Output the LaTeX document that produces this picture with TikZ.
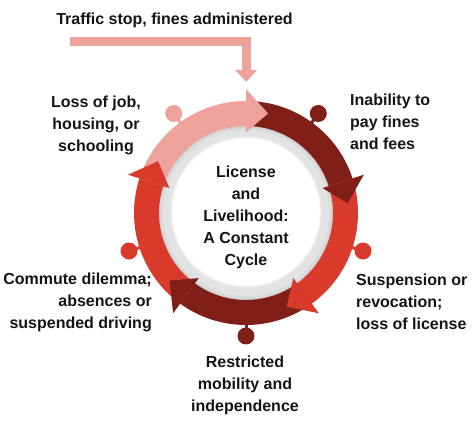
\documentclass[tikz,border=0pt]{standalone}
\usepackage{fontspec}
\setmainfont{Liberation Sans}
\usetikzlibrary{calc}
\definecolor{cpink}{RGB}{237,162,155}
\definecolor{cdark}{RGB}{128,30,24}
\definecolor{cred}{RGB}{217,58,44}
\definecolor{cgray}{RGB}{227,227,227}
\definecolor{ctext}{RGB}{20,20,20}
\begin{document}
\begin{tikzpicture}[x=1pt,y=1pt,
  lbl/.style={font=\fontsize{16}{22}\selectfont\bfseries, inner sep=0pt, text=ctext}]
\useasboundingbox (0,0) rectangle (472,423);
\coordinate (c) at (246,210);

% gray shadow ring (soft) and white disk
\fill[black!18] (c) circle[radius=88];
\fill[black!14] (c) circle[radius=85.5];
\fill[cgray] (c) circle[radius=83];
\fill[black!7] (246,211) circle[radius=75.5];
\fill[black!3] (246,211) circle[radius=74.5];
\fill[white] (246,211) circle[radius=73.5];

% pins
\foreach \a/\col in {126/cpink,54/cdark,-18/cred,-90/cdark,-162/cred}{
  \draw[\col, line width=3] ($(c)+(\a:105)$) -- ($(c)+(\a:122)$);
  \fill[\col] ($(c)+(\a:123)$) circle[radius=8.5];
}

% arrow bodies
\foreach \s/\e/\col in {162/90/cpink, 90/18/cdark, 18/-54/cred, -54/-126/cdark, -126/-198/cred}{
  \fill[\col] ($(c)+(\s:112)$) arc[start angle=\s, end angle=\e, radius=112]
     -- ($(c)+(\e:87)$) arc[start angle=\e, end angle=\s, radius=87] -- cycle;
}
% arrow heads
\foreach \b/\col in {90/cpink, 18/cdark, -54/cred, -126/cdark, -198/cred}{
  \pgfmathsetmacro\t{\b-12.5}
  \fill[\col] ($(c)+(\b:80.5)$) -- ($(c)+(\b:124)$) -- ($(c)+(\t:102)$) -- cycle;
}

% entry arrow
\coordinate (ts) at (70,381.8);
\coordinate (tc) at (246.2,352);
\coordinate (tt) at (246.2,341.3);
\draw[cpink, line width=9] (ts) -| (tc);
\fill[cpink] ($(tt)+(-11,11.7)$) -- ($(tt)+(11,11.7)$) -- (tt) -- cycle;

% labels
\node[lbl, anchor=base] (title) at (174.5,398) {Traffic stop, fines administered};
\node[lbl, align=center] (loss) at (96,298) {Loss of job,\\housing, or\\schooling};
\node[lbl, align=left, anchor=west] (inab) at (350,301) {Inability to\\pay fines\\and fees};
\node[lbl, align=left, anchor=west] (susp) at (356,121) {Suspension or\\revocation;\\loss of license};
\node[lbl, align=center] (restr) at (245,38) {Restricted\\mobility and\\independence};
\node[lbl, align=right, anchor=east] (comm) at (152,121) {Commute dilemma;\\absences or\\suspended driving};
\node[lbl, align=center] (center) at (246,206) {License\\and\\Livelihood:\\A Constant\\Cycle};
\end{tikzpicture}
\end{document}
